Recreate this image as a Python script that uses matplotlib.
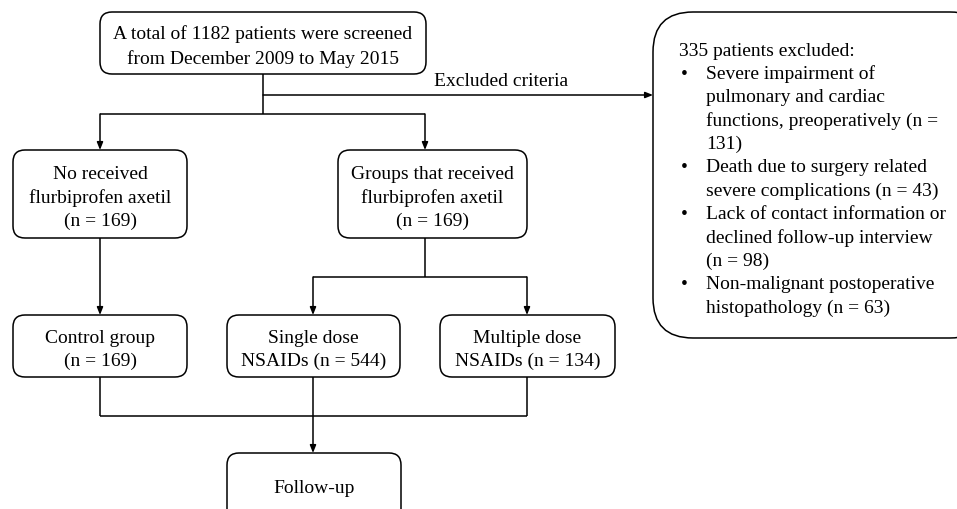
import matplotlib
matplotlib.use("Agg")
import matplotlib.pyplot as plt
from matplotlib.patches import FancyBboxPatch

plt.rcParams['font.family'] = ['Liberation Serif', 'DejaVu Serif']

# box texts
top_text = "A total of 1182 patients were screened\nfrom December 2009 to May 2015"
no_fa_text = "No received\nflurbiprofen axetil\n(n = 169)"
fa_text = "Groups that received\nflurbiprofen axetil\n(n = 169)"
group_texts = ["Control group\n(n = 169)",
               "Single dose\nNSAIDs (n = 544)",
               "Multiple dose\nNSAIDs (n = 134)"]
follow_text = "Follow-up"
excl_label = "Excluded criteria"
excl_title = "335 patients excluded:"
excl_items = ["Severe impairment of\npulmonary and cardiac\nfunctions, preoperatively (n =\n131)",
              "Death due to surgery related\nsevere complications (n = 43)",
              "Lack of contact information or\ndeclined follow-up interview\n(n = 98)",
              "Non-malignant postoperative\nhistopathology (n = 63)"]

FS = 14
LW = 1.1
STEP = 23.4

fig = plt.figure(figsize=(9.57, 5.10), dpi=100)
ax = fig.add_axes([0, 0, 1, 1])
ax.set_xlim(0, 957)
ax.set_ylim(510, 0)
ax.axis('off')


def lines_at(x, yc, text, step=STEP, ha='center'):
    parts = text.split('\n')
    y0 = yc - (len(parts) - 1) * step / 2
    for k, ln in enumerate(parts):
        ax.text(x, y0 + k * step, ln, ha=ha, va='center', fontsize=FS, zorder=3)


def box(x0, y0, x1, y1, text, r=12, step=STEP):
    p = FancyBboxPatch((x0, y0), x1 - x0, y1 - y0,
                       boxstyle=f"round,pad=0,rounding_size={r}",
                       fc='white', ec='black', lw=LW, zorder=2)
    ax.add_patch(p)
    if text:
        lines_at((x0 + x1) / 2, (y0 + y1) / 2 + 3, text, step)


def line(xs, ys):
    ax.plot(xs, ys, color='black', lw=LW, solid_capstyle='butt', zorder=1)


def arrow(x0, y0, x1, y1):
    ax.annotate("", xy=(x1, y1), xytext=(x0, y0),
                arrowprops=dict(arrowstyle="-|>,head_length=0.45,head_width=0.18",
                                color='black', lw=LW, shrinkA=0, shrinkB=0),
                zorder=1)


# boxes
box(100, 13, 426, 75, top_text, step=25)
box(13, 151, 187, 239, no_fa_text)
box(338, 151, 527, 239, fa_text)
gx = [(13, 187), (227, 400), (440, 615)]
for (a, b), t in zip(gx, group_texts):
    box(a, 316, b, 378, t)
box(227, 454, 401, 530, None)
lines_at(314, 489, follow_text)

# exclusion box
box(653, 13, 990, 339, None, r=40)
ax.text(679, 51, excl_title, ha='left', va='center', fontsize=FS, zorder=3)
y = 51 + STEP
for item in excl_items:
    n = item.count('\n') + 1
    ax.text(681, y, "•", ha='left', va='center', fontsize=FS, zorder=3)
    for k, ln in enumerate(item.split('\n')):
        ax.text(706, y + k * STEP, ln, ha='left', va='center', fontsize=FS, zorder=3)
    y += n * STEP

# connectors
line([263, 263], [75, 115])
arrow(263, 96, 653, 96)
ax.text(501, 81, excl_label, ha='center', va='center', fontsize=FS)
line([100, 425], [115, 115])
arrow(100, 115, 100, 151)
arrow(425, 115, 425, 151)
arrow(100, 239, 100, 316)
line([425, 425], [239, 278])
line([313, 527], [278, 278])
arrow(313, 278, 313, 316)
arrow(527, 278, 527, 316)
line([100, 100], [378, 417])
line([527, 527], [378, 417])
line([100, 527], [417, 417])
arrow(313, 378, 313, 454)

fig.savefig("out.png", dpi=100)
